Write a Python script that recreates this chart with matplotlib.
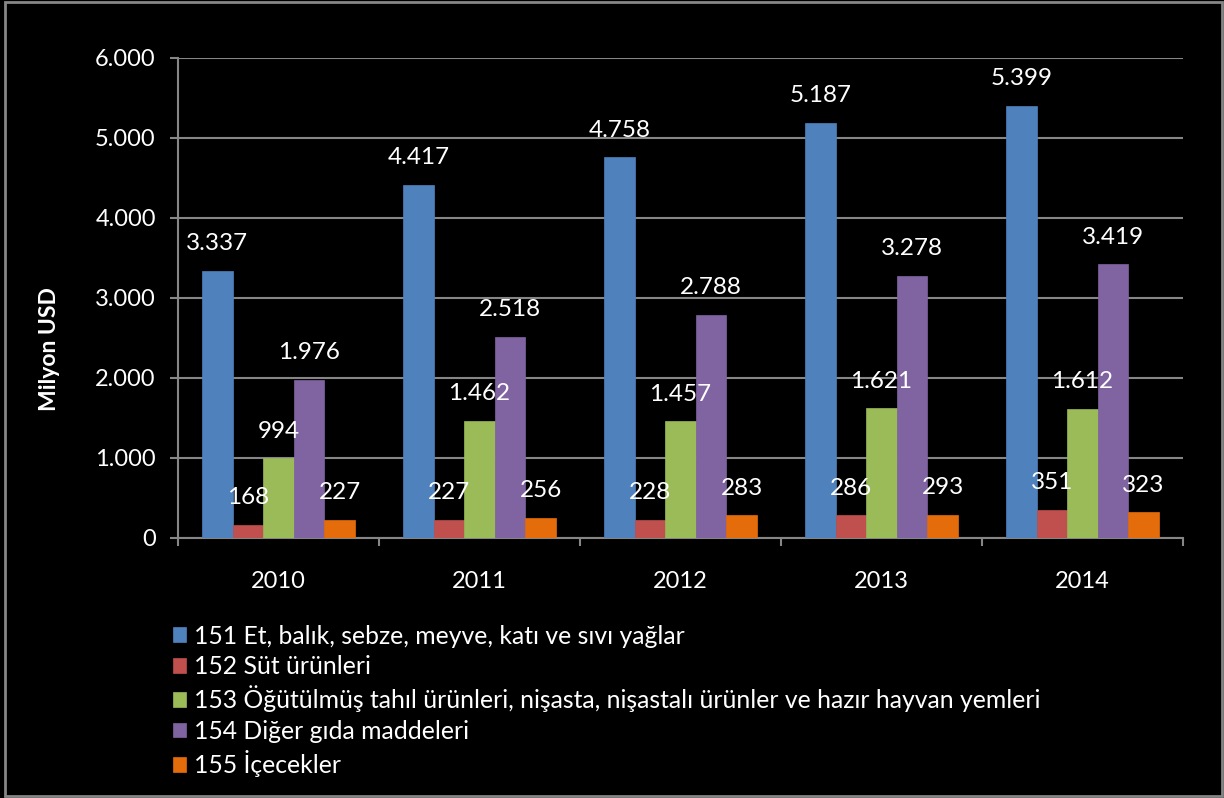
import numpy as np
import matplotlib
matplotlib.use("Agg")
import matplotlib.pyplot as plt
from matplotlib.patches import Rectangle

# veriler
years = ["2010", "2011", "2012", "2013", "2014"]
s151 = [3337, 4417, 4758, 5187, 5399]
s152 = [168, 227, 228, 286, 351]
s153 = [994, 1462, 1457, 1621, 1612]
s154 = [1976, 2518, 2788, 3278, 3419]
s155 = [227, 256, 283, 293, 323]
names = ["151 Et, balık, sebze, meyve, katı ve sıvı yağlar",
         "152 Süt ürünleri",
         "153 Öğütülmüş tahıl ürünleri, nişasta, nişastalı ürünler ve hazır hayvan yemleri",
         "154 Diğer gıda maddeleri",
         "155 İçecekler"]
colors = ["#4F81BD", "#C0504D", "#9BBB59", "#8064A2", "#E46C0A"]
yticks = [0, 1000, 2000, 3000, 4000, 5000, 6000]

plt.rcParams['font.family'] = ['Lato', 'DejaVu Sans']


def tr(v):
    return f"{v:,}".replace(",", ".")


fig = plt.figure(figsize=(12.24, 7.98), dpi=100, facecolor="black")
ax = fig.add_axes([178/1224, 1-538/798, (1183-178)/1224, (538-58)/798])
ax.set_facecolor("black")

grey = "#868686"
x = np.arange(len(years))
w = 0.152
series = [s151, s152, s153, s154, s155]
for i, vals in enumerate(series):
    pos = x + (i - 2) * w
    ax.bar(pos, vals, w, color=colors[i], edgecolor=colors[i], linewidth=0.5,
           label=names[i], zorder=3)
    for px, v in zip(pos, vals):
        ax.annotate(tr(v), (px, v), xytext=(0, 19.5), textcoords="offset points",
                    ha="center", va="center", color="white", fontsize=17.5, zorder=4)

ax.set_xlim(-0.5, 4.5)
ax.set_ylim(0, 6000)
ax.set_yticks(yticks)
ax.set_yticklabels([tr(v) for v in yticks])
ax.yaxis.grid(True, color=grey, linewidth=1.5, zorder=0)
ax.set_xticks(x)
ax.set_xticklabels(years)
ax.set_xticks(np.arange(-0.5, 5, 1), minor=True)
ax.tick_params(axis="x", which="major", length=0, pad=24, colors="white", labelsize=17)
ax.tick_params(axis="x", which="minor", length=6, width=1.5, color=grey)
ax.tick_params(axis="y", length=6, width=1.5, color=grey, labelcolor="white",
               labelsize=17, pad=10)
for s in ["top", "right"]:
    ax.spines[s].set_visible(False)
for s in ["left", "bottom"]:
    ax.spines[s].set_color(grey)
    ax.spines[s].set_linewidth(1.5)

ax.set_ylabel("Milyon USD", color="white", fontsize=16.5, fontweight="bold")
ax.yaxis.set_label_coords(-0.117, 0.394)

leg = ax.legend(loc="upper left", bbox_to_anchor=(-0.015, -0.16), frameon=False,
                fontsize=17.8, labelcolor="white", handlelength=0.55, handleheight=0.55,
                handletextpad=0.3, labelspacing=0.3, borderaxespad=0)

fig.patches.append(Rectangle((0.004, 0.002), 0.994, 0.996, transform=fig.transFigure,
                             fill=False, edgecolor=grey, linewidth=2))

fig.savefig("out.png", dpi=100, facecolor="black")
